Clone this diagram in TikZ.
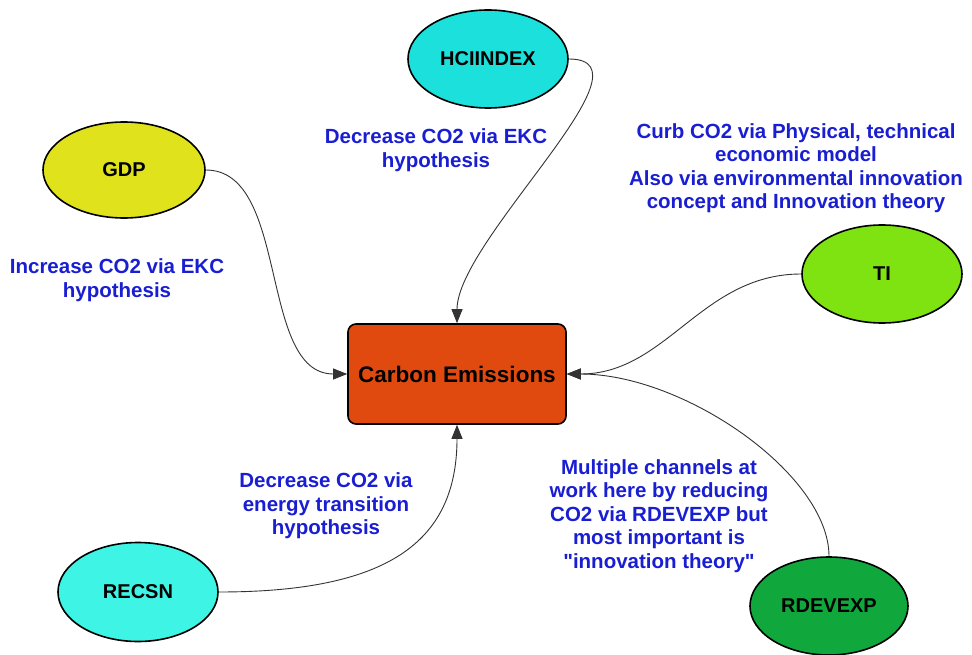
\documentclass[tikz,border=0pt]{standalone}
\usepackage{fontspec}
\setmainfont{Liberation Sans}[Ligatures=TeXOff]
\usetikzlibrary{shapes.geometric, arrows.meta}

\definecolor{ceorange}{RGB}{224,74,14}
\definecolor{hcicyan}{RGB}{28,224,220}
\definecolor{gdpyellow}{RGB}{224,226,28}
\definecolor{tilime}{RGB}{126,227,16}
\definecolor{recsncyan}{RGB}{62,245,229}
\definecolor{rdevgreen}{RGB}{16,168,60}
\definecolor{labelblue}{RGB}{25,30,210}

\begin{document}
\begin{tikzpicture}[x=1pt,y=-1pt,
  oval/.style={ellipse, draw=black, line width=1.6pt, minimum width=160pt, minimum height=98pt, inner sep=0pt, font=\fontsize{20}{24}\selectfont\bfseries},
  effect/.style={align=center, text=labelblue, font=\fontsize{20.5}{23.5}\selectfont\bfseries},
  link/.style={draw=black!80, line width=0.9pt, -{Triangle[length=14pt,width=11pt]}}]
\useasboundingbox (0,0) rectangle (972,655);

% Central outcome
\node[draw=black, line width=1.6pt, fill=ceorange, rounded corners=8pt, minimum width=218pt, minimum height=100pt, font=\fontsize{22.5}{26}\selectfont\bfseries] (ce) at (457,374) {Carbon Emissions};

% Drivers
\node[oval, fill=hcicyan] (hci) at (488,59) {HCIINDEX};
\node[oval, fill=gdpyellow, minimum width=162pt, minimum height=96pt] (gdp) at (124,170) {GDP};
\node[oval, fill=tilime] (ti) at (882,274) {TI};
\node[oval, fill=recsncyan, minimum height=99pt] (recsn) at (138,592) {RECSN};
\node[oval, fill=rdevgreen, minimum width=158pt] (rdev) at (829,606) {RDEVEXP};

% Channels
\node[effect] (lblhci) at (436,150) {Decrease CO2 via EKC\\hypothesis};
\node[effect] (lblgdp) at (117,280) {Increase CO2 via EKC\\hypothesis};
\node[effect] (lblti) at (796,168) {Curb CO2 via Physical, technical\\economic model\\Also via environmental innovation\\concept and Innovation theory};
\node[effect] (lblrecsn) at (326,506) {Decrease CO2 via\\energy transition\\hypothesis};
\node[effect] (lblrdev) at (659,516) {Multiple channels at\\work here by reducing\\CO2 via RDEVEXP but\\most important is\\"innovation theory"};

% Connectors
\draw[link] (hci.east) .. controls +(92,0) and (457,240) .. (ce.north);
\draw[link] (gdp.east) .. controls (290,170) and (258,374) .. (ce.west);
\draw[link] (ti.west) .. controls +(-100,0) and +(100,0) .. (ce.east);
\draw[link] (recsn.east) .. controls (385,592) and (457,544) .. (ce.south);
\draw[link] (rdev.north) .. controls (829,475) and (685,374) .. (ce.east);
\end{tikzpicture}
\end{document}
